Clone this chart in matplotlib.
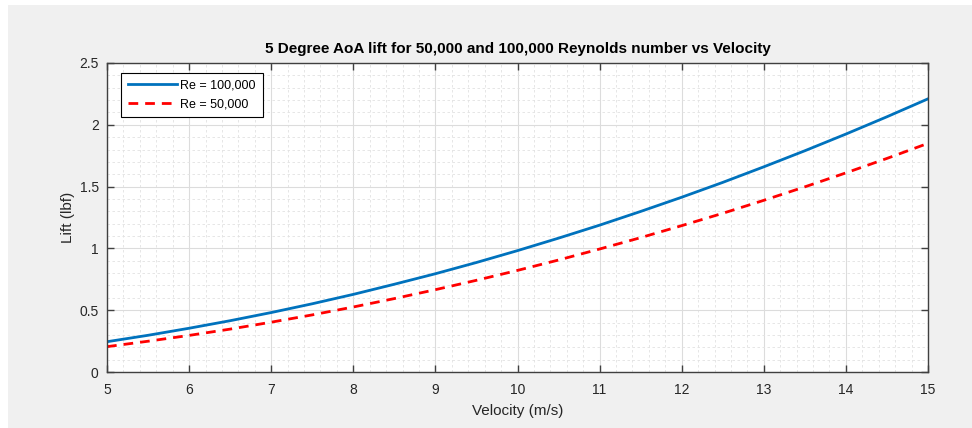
import matplotlib.pyplot as plt
from matplotlib.patches import Rectangle
from matplotlib.ticker import MultipleLocator

# velocity (m/s)
velocity = [5, 5.5, 6, 6.5, 7, 7.5, 8, 8.5, 9, 9.5, 10,
            10.5, 11, 11.5, 12, 12.5, 13, 13.5, 14, 14.5, 15]

# lift (lbf)
lift_re100k = [0.245, 0.297, 0.354, 0.415, 0.481, 0.552, 0.628, 0.710, 0.795, 0.886, 0.982,
               1.083, 1.188, 1.299, 1.414, 1.534, 1.660, 1.790, 1.925, 2.065, 2.210]
lift_re50k = [0.205, 0.249, 0.296, 0.347, 0.403, 0.462, 0.526, 0.594, 0.666, 0.742, 0.822,
              0.906, 0.995, 1.087, 1.184, 1.284, 1.389, 1.498, 1.611, 1.728, 1.850]

plt.rcParams['font.family'] = ['Liberation Sans', 'DejaVu Sans']

fig = plt.figure(figsize=(9.72, 4.28), dpi=100, facecolor='white')
# gray window background
fig.patches.append(Rectangle((8 / 972, 0), 1, 1 - 5 / 428, transform=fig.transFigure,
                             facecolor='#f0f0f0', edgecolor='none', zorder=-10))

ax = fig.add_axes([107 / 972, 56 / 428, 821 / 972, 309 / 428])
ax.set_facecolor('white')

ax.plot(velocity, lift_re100k, color='#0072bd', linewidth=2, label='Re = 100,000')
ax.plot(velocity, lift_re50k, color='#ff0000', linewidth=2, linestyle=(0, (3.5, 2.5)),
        label='Re = 50,000')

ax.set_xlim(5, 15)
ax.set_ylim(0, 2.5)
ax.xaxis.set_major_locator(MultipleLocator(1))
ax.xaxis.set_minor_locator(MultipleLocator(0.2))
ax.yaxis.set_major_locator(MultipleLocator(0.5))
ax.yaxis.set_minor_locator(MultipleLocator(0.1))
ax.yaxis.set_major_formatter(plt.FuncFormatter(lambda v, p: f'{v:g}'))

ax.grid(True, which='major', color='#dcdcdc', linewidth=0.8, linestyle='-')
ax.grid(True, which='minor', color='#e2e2e2', linewidth=0.6, linestyle=(0, (3, 3)))
ax.set_axisbelow(True)

ax.tick_params(which='both', direction='in', top=True, right=True, colors='#404040',
               labelsize=10, labelcolor='#262626')
ax.tick_params(which='major', length=5, width=1)
ax.tick_params(axis='x', which='major', pad=8)
ax.tick_params(axis='y', which='major', pad=6)
ax.tick_params(which='minor', length=0)
for s in ax.spines.values():
    s.set_color('#404040')
    s.set_linewidth(1)

ax.set_xlabel('Velocity (m/s)', fontsize=11, color='#262626', labelpad=5)
ax.set_ylabel('Lift (lbf)', fontsize=11, color='#262626', labelpad=3)
ax.set_title('5 Degree AoA lift for 50,000 and 100,000 Reynolds number vs Velocity',
             fontsize=11, fontweight='bold', color='black', pad=7)

leg = ax.legend(loc='upper left', bbox_to_anchor=(0.017, 0.968), borderaxespad=0,
                fontsize=9, fancybox=False, edgecolor='black', framealpha=1,
                handlelength=3.9, borderpad=0.55, labelspacing=0.5, handletextpad=0.3)
leg.get_frame().set_linewidth(0.8)

fig.savefig('out.png', dpi=100, facecolor=fig.get_facecolor())
